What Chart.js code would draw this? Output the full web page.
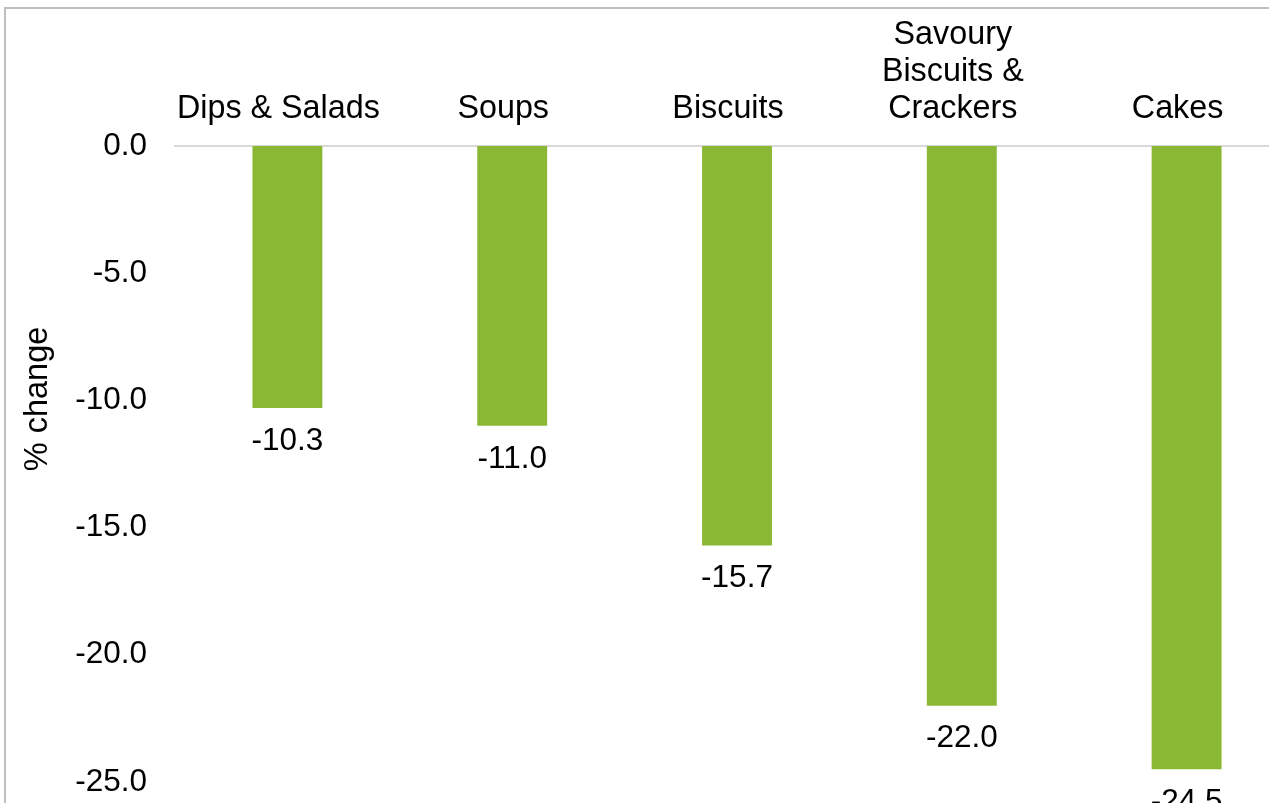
<!DOCTYPE html>
<html>
<head>
<meta charset="utf-8">
<script src="https://cdn.jsdelivr.net/npm/chart.js@4"></script>
<style>
  html, body { margin: 0; padding: 0; background: #fff; overflow: hidden; }
  #frame {
    position: absolute;
    left: 4px;
    top: 7px;
    width: 1500px;
    height: 950px;
    border: 2px solid #bfbfbf;
    background: #fff;
  }
  canvas { display: block; }
</style>
</head>
<body>
<div id="frame">
  <canvas id="chart" width="1400" height="880"></canvas>
</div>
<script>
const categories = [
  "Dips & Salads",
  "Soups",
  "Biscuits",
  ["Savoury", "Biscuits &", "Crackers"],
  "Cakes",
];
const changes = [-10.3, -11.0, -15.7, -22.0, -24.5];
const yTicks = [0, -5, -10, -15, -20, -25];
const yTitle = "% change";

const font = "'Liberation Sans', Arial, sans-serif";
const barColor = "#8bb834";

// labels under each bar plus the rotated axis title
const labelPlugin = {
  id: "barLabels",
  afterDatasetsDraw(chart) {
    const ctx = chart.ctx;
    const meta = chart.getDatasetMeta(0);
    ctx.save();
    ctx.font = "31.5px " + font;
    ctx.fillStyle = "#000";
    ctx.textAlign = "center";
    ctx.textBaseline = "middle";
    meta.data.forEach((bar, i) => {
      ctx.fillText(changes[i].toFixed(1), bar.x, bar.y + 33);
    });
    ctx.font = "32.5px " + font;
    ctx.translate(32, 390);
    ctx.rotate(-Math.PI / 2);
    ctx.fillText(yTitle, 0, 0);
    ctx.restore();
  },
};

new Chart(document.getElementById("chart"), {
  type: "bar",
  data: {
    labels: categories,
    datasets: [
      {
        data: changes,
        backgroundColor: barColor,
        borderWidth: 0,
        barPercentage: 0.311,
        categoryPercentage: 1,
      },
    ],
  },
  options: {
    responsive: false,
    animation: false,
    layout: { padding: { left: 0, top: 0, right: 107, bottom: 107 } },
    plugins: {
      legend: { display: false },
      tooltip: { enabled: false },
    },
    scales: {
      x: {
        position: "top",
        grid: { display: false },
        border: { display: true, color: "#d9d9d9", width: 2 },
        ticks: {
          color: "#000",
          font: { family: font, size: 32.3, lineHeight: 1.15 },
          padding: 10,
          labelOffset: -9,
          maxRotation: 0,
          autoSkip: false,
        },
        afterFit: (s) => { s.height = 137; },
      },
      y: {
        min: -25,
        max: 0,
        afterBuildTicks: (s) => { s.ticks = yTicks.map((v) => ({ value: v })); },
        grid: { display: false },
        border: { display: false },
        ticks: {
          color: "#000",
          font: { family: font, size: 31.5 },
          padding: 20,
          callback: (v) => Number(v).toFixed(1),
        },
        afterFit: (s) => { s.width = 169; },
      },
    },
  },
  plugins: [labelPlugin],
});
</script>
</body>
</html>
